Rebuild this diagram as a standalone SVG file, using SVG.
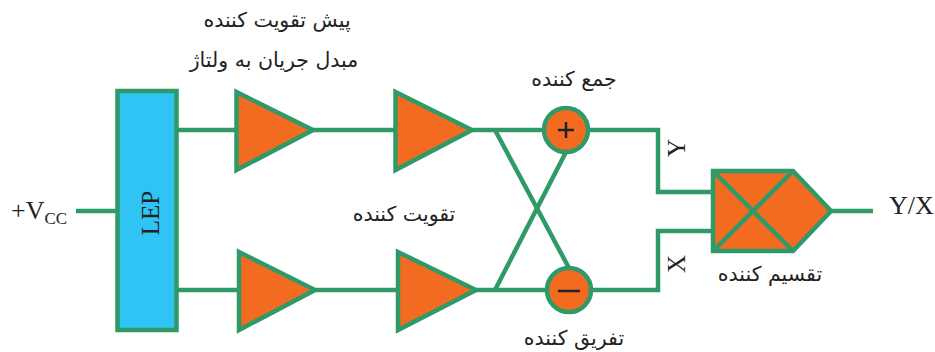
<svg xmlns="http://www.w3.org/2000/svg" width="935" height="352" viewBox="0 0 935 352">
<style>
.w{fill:none;stroke:#2f9a68;stroke-width:4.5;stroke-linejoin:miter}
.n{fill:#f36b21;stroke:#2f9a68;stroke-width:4.500;stroke-linejoin:miter}
.fa{font-family:"DejaVu Sans",sans-serif;font-size:20.500px;fill:#222;text-anchor:middle;direction:rtl}
.l{font-family:"Liberation Serif",serif;fill:#222}
</style>
<rect width="935" height="352" fill="#fff"/>
<g id="connectors" class="w">
<path d="M76 211H117"/>
<path d="M177 130H237"/>
<path d="M177 290H239"/>
<path d="M313 130H396"/>
<path d="M315 290H398"/>
<path d="M472 130H544"/>
<path d="M476 290H547"/>
<path d="M495 130L569 268"/>
<path d="M495 290L566 152"/>
<path d="M588 130H658V192H713"/>
<path d="M591 290H658V231H713"/>
<path d="M832 211H873"/>
</g>
<g id="lep"><rect x="117.500" y="91" width="59" height="239" fill="#2fc4f3" stroke="#2f9a68" stroke-width="4.500"/>
<text class="l" transform="translate(159 213) rotate(-90)" text-anchor="middle" font-size="25">LEP</text></g>
<g id="amp1"><path class="n" d="M236.500 92L313 130L236.500 170Z"/></g>
<g id="amp2"><path class="n" d="M395.500 92L472 130L395.500 170Z"/></g>
<g id="amp3"><path class="n" d="M239 252L315 290L239 330Z"/></g>
<g id="amp4"><path class="n" d="M398 252L476 290L398 330Z"/></g>
<g id="adder"><circle class="n" cx="566" cy="130" r="22"/><path d="M558 130H574M566 122V138" stroke="#222" stroke-width="2.500" fill="none"/></g>
<g id="subtractor"><circle class="n" cx="569" cy="290" r="22"/><path d="M558 291H580" stroke="#222" stroke-width="2.500" fill="none"/></g>
<g id="divider"><path class="n" d="M713 171H793L831 211L793 251H713Z"/><path class="w" d="M713 171L793 251M713 251L793 171"/></g>
<g id="labels">
<text class="fa" x="277" y="27">پیش تقویت کننده</text>
<text class="fa" x="274" y="67">مبدل جریان به ولتاژ</text>
<text class="fa" x="404" y="221">تقویت کننده</text>
<text class="fa" x="574" y="86">جمع کننده</text>
<text class="fa" x="574" y="345">تفریق کننده</text>
<text class="fa" x="770" y="281">تقسیم کننده</text>
<text class="l" x="11" y="219" font-size="26">+V<tspan font-size="17" dy="5">CC</tspan></text>
<text class="l" x="889" y="214" font-size="26">Y/X</text>
<text class="l" transform="translate(685 148) rotate(-90)" text-anchor="middle" font-size="25">Y</text>
<text class="l" transform="translate(685 264) rotate(-90)" text-anchor="middle" font-size="25">X</text>
</g>
</svg>
